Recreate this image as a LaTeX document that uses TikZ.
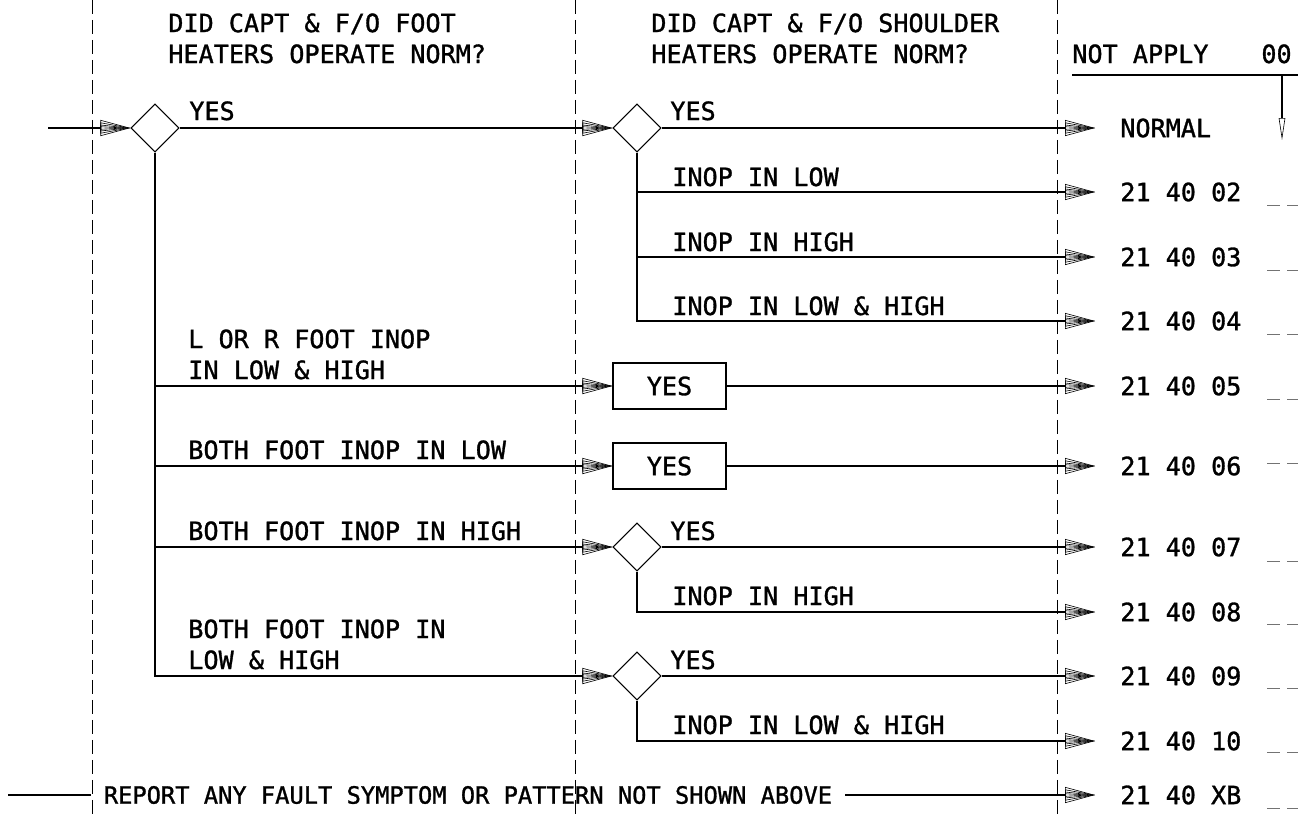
\documentclass[tikz,border=0pt]{standalone}
\usepackage{fontspec}
\newfontfamily\cadfont[FakeBold=1.2]{DejaVu Sans Mono}
\usetikzlibrary{positioning,arrows.meta,shapes.geometric}

\begin{document}
\begin{tikzpicture}[x=0.02cm, y=-0.02cm,
  every node/.style={font=\cadfont\fontsize{14.3}{17.6}\selectfont},
  dec/.style={draw, diamond, aspect=1, minimum size=0.96cm, inner sep=0pt, line width=0.6pt},
  yesbox/.style={draw, minimum width=2.26cm, minimum height=0.92cm, inner sep=0pt, line width=0.6pt},
  lbl/.style={anchor=base west, inner sep=0pt, align=left},
  code/.style={anchor=west, inner xsep=0.5cm, inner ysep=0pt},
  wire/.style={draw=black, line width=0.65pt},
  arr/.style={wire, -{Triangle[open,length=0.6cm,width=0.32cm,line width=0.35pt,sep=-0.6cm]Triangle[open,length=0.6cm,width=0.22cm,line width=0.35pt,sep=-0.6cm]Triangle[open,length=0.6cm,width=0.13cm,line width=0.35pt,sep=-0.6cm]Triangle[open,length=0.6cm,width=0.06cm,line width=0.35pt]}},
  divider/.style={draw=black, line width=0.5pt, dash pattern=on 0.28cm off 0.12cm},
  blank/.style={draw=black!55, line width=0.5pt, dash pattern=on 0.26cm off 0.14cm}
]
\useasboundingbox (0,0) rectangle (1308,815);

% Column dividers
\draw[divider] (92,0) -- (92,815);
\draw[divider] (575,0) -- (575,815);
\draw[divider] (1057,0) -- (1057,815);

% Column headings
\node[lbl] (h1) at (168,63) {DID CAPT \& F/O FOOT\\HEATERS OPERATE NORM?};
\node[lbl] (h2) at (651,63) {DID CAPT \& F/O SHOULDER\\HEATERS OPERATE NORM?};
\node[lbl] (na) at (1072,63) {NOT APPLY};
\node[inner sep=0pt, anchor=base east] (n00) at (1292,63) {00};
\coordinate (ul) at (1072,75);
\coordinate (ur) at (1298,75);
\coordinate (ua) at (1282,75);
\coordinate (ub) at (1282,140);
\draw[wire] (ul) -- (ur);
\draw[wire, -{Triangle[open,length=0.44cm,width=0.13cm,line width=0.35pt]}] (ua) -- (ub);

% Decisions
\coordinate (in) at (48,128);
\node[dec] (d1) at (155,128) {};
\node[dec] (d2) at (637,128) {};
\node[dec] (d3) at (637,547) {};
\node[dec] (d4) at (637,676) {};
\node[yesbox] (b1) at (669.5,386) {YES};
\node[yesbox] (b2) at (669.5,466) {YES};

% Fault codes
\node[code] (o00) at (1095,128) {NORMAL};
\node[code] (o02) at (1095,192) {21 40 02};
\node[code] (o03) at (1095,257) {21 40 03};
\node[code] (o04) at (1095,321) {21 40 04};
\node[code] (o05) at (1095,386) {21 40 05};
\node[code] (o06) at (1095,466) {21 40 06};
\node[code] (o07) at (1095,547) {21 40 07};
\node[code] (o08) at (1095,612) {21 40 08};
\node[code] (o09) at (1095,676) {21 40 09};
\node[code] (o10) at (1095,741) {21 40 10};
\node[code] (oxb) at (1095,795) {21 40 XB};
\foreach \y in {205,270,334,399,561,624,688,752,808}
  \draw[blank] (1267,\y) -- (1298,\y);
\draw[blank] (1267,463) -- (1298,463);

% Branch labels
\node[lbl] (y1) at (189,120) {YES};
\node[lbl] (y2) at (670,120) {YES};
\node[lbl] (l02) at (672,186) {INOP IN LOW};
\node[lbl] (l03) at (672,251) {INOP IN HIGH};
\node[lbl] (l04) at (672,315) {INOP IN LOW \& HIGH};
\node[lbl] (f1) at (188,379) {L OR R FOOT INOP\\IN LOW \& HIGH};
\node[lbl] (f2) at (188,459) {BOTH FOOT INOP IN LOW};
\node[lbl] (f3) at (188,540) {BOTH FOOT INOP IN HIGH};
\node[lbl] (f4) at (188,669) {BOTH FOOT INOP IN\\LOW \& HIGH};
\node[lbl] (y3) at (670,540) {YES};
\node[lbl] (l08) at (672,605) {INOP IN HIGH};
\node[lbl] (y4) at (670,669) {YES};
\node[lbl] (l10) at (672,734) {INOP IN LOW \& HIGH};

% Connectors
\draw[arr] (in) -- (d1.west);
\draw[arr] (d1.east) -- (d2.west);
\draw[arr] (d2.east) -- (o00.west);
\draw[arr] (d2.south) |- (o02.west);
\draw[arr] (d2.south) |- (o03.west);
\draw[arr] (d2.south) |- (o04.west);
\draw[arr] (d1.south) |- (b1.west);
\draw[arr] (d1.south) |- (b2.west);
\draw[arr] (d1.south) |- (d3.west);
\draw[arr] (d1.south) |- (d4.west);
\draw[arr] (b1.east) -- (o05.west);
\draw[arr] (b2.east) -- (o06.west);
\draw[arr] (d3.east) -- (o07.west);
\draw[arr] (d3.south) |- (o08.west);
\draw[arr] (d4.east) -- (o09.west);
\draw[arr] (d4.south) |- (o10.west);

% Catch-all row
\coordinate (rs) at (8,795);
\node[inner xsep=0.26cm, inner ysep=0pt, font=\cadfont\fontsize{13.5}{16}\selectfont] (report) at (468,795) {REPORT ANY FAULT SYMPTOM OR PATTERN NOT SHOWN ABOVE};
\draw[wire] (rs) -- (report.west);
\draw[arr] (report.east) -- (oxb.west);
\end{tikzpicture}
\end{document}
